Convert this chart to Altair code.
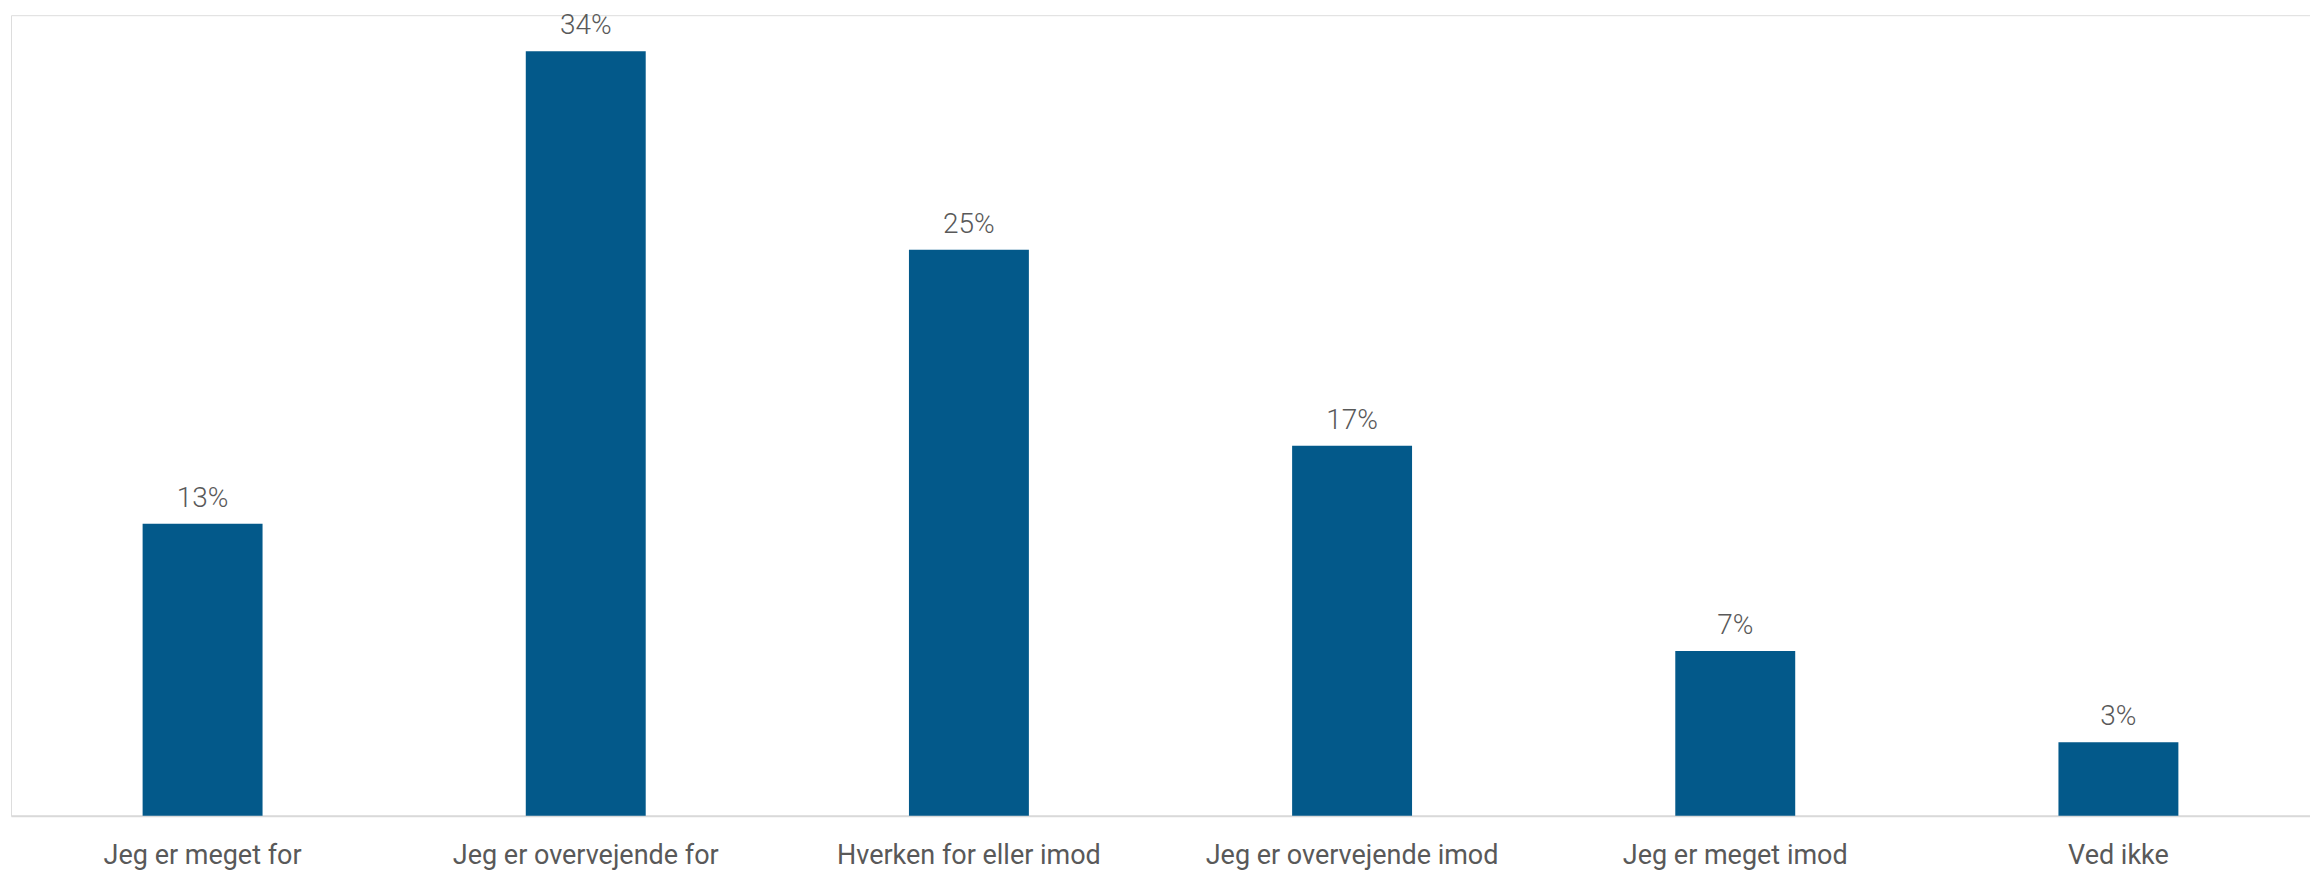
import altair as alt
import pandas as pd

categories = [
    "Jeg er meget for",
    "Jeg er overvejende for",
    "Hverken for eller imod",
    "Jeg er overvejende imod",
    "Jeg er meget imod",
    "Ved ikke",
]
values = [13.1, 34.3, 25.4, 16.6, 7.4, 3.3]
labels = ["13%", "34%", "25%", "17%", "7%", "3%"]

df = pd.DataFrame({"cat": categories, "val": values, "lab": labels})

x = alt.X(
    "cat:N",
    sort=categories,
    title=None,
    scale=alt.Scale(paddingInner=0.687, paddingOuter=0.3435),
    axis=alt.Axis(
        labelAngle=0,
        ticks=False,
        tickSize=0,
        labelPadding=48,
        labelBaseline="alphabetic",
        labelFont="Roboto",
        labelFontSize=27,
        labelLimit=0,
        labelColor="#595959",
        domainColor="#d9d9d9",
        domainWidth=2,
        grid=False,
    ),
)
y = alt.Y(
    "val:Q",
    title=None,
    scale=alt.Scale(domain=[0, 35.92], nice=False, zero=True),
    axis=None,
)

bars = alt.Chart(df).mark_bar(color="#03598a").encode(x=x, y=y)
text = alt.Chart(df).mark_text(
    dy=-17,
    baseline="alphabetic",
    font="Roboto",
    fontWeight=300,
    fontSize=28,
    color="#595959",
).encode(x=alt.X("cat:N", sort=categories), y="val:Q", text="lab:N")

chart = (
    alt.layer(bars, text)
    .properties(width=2300, height=801, padding={"left": 3, "top": 4, "right": 0, "bottom": 6})
    .configure_view(strokeWidth=0, stroke="transparent")
    .configure(background="white")
)

chart.save("out.html", embed_options={"renderer": "svg", "actions": False})
